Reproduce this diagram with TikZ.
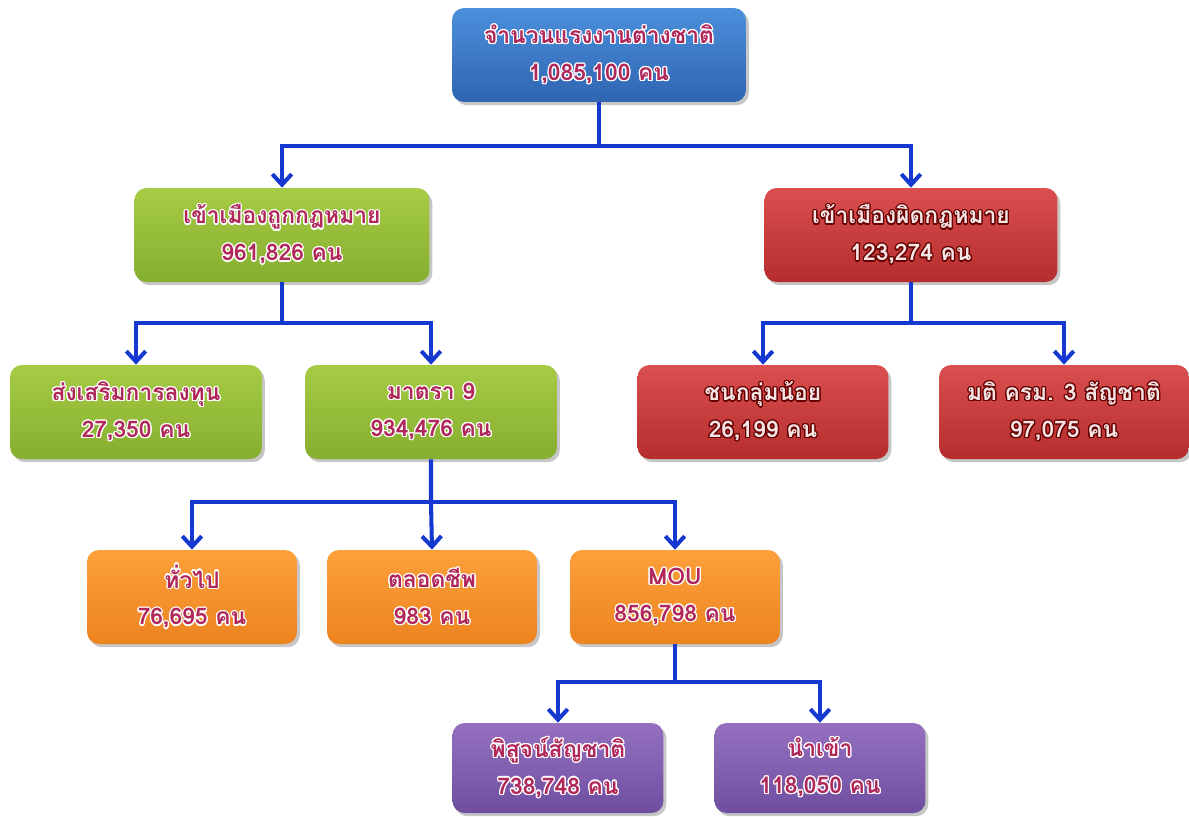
\documentclass[tikz,border=0pt]{standalone}
\usepackage{fontspec}
\newfontfamily\thaifont[Script=Thai]{Loma}
\usepackage{contour}
\contourlength{0.7pt}
\usetikzlibrary{arrows.meta,shadows}

\definecolor{linkblue}{HTML}{1438D0}
\definecolor{txtred}{HTML}{B0285A}
\definecolor{txtpale}{HTML}{F4E4E4}
\definecolor{blueA}{HTML}{4C8FDB}
\definecolor{blueB}{HTML}{2F65B2}
\definecolor{greenA}{HTML}{A6CC45}
\definecolor{greenB}{HTML}{86AE2F}
\definecolor{redA}{HTML}{DA4F4F}
\definecolor{redB}{HTML}{B52D2D}
\definecolor{orangeA}{HTML}{FDA03A}
\definecolor{orangeB}{HTML}{EC8420}
\definecolor{purpleA}{HTML}{9570C0}
\definecolor{purpleB}{HTML}{6F4E9F}

\newcommand{\glow}[1]{\contour{white}{#1}}
\newcommand{\darkglow}[1]{\contour{red!40!black}{#1}}

\begin{document}
\begin{tikzpicture}[x=0.02cm,y=-0.02cm,
    card/.style={rounded corners=0.24cm, align=center, text=txtred,
        font=\thaifont\bfseries\fontsize{13}{21}\selectfont,
        minimum height=1.88cm, inner sep=2pt,
        drop shadow={shadow xshift=1.6pt, shadow yshift=-1.8pt, opacity=0.45}},
    bluecard/.style={card, minimum width=5.88cm, top color=blueA, bottom color=blueB},
    greencard/.style={card, top color=greenA, bottom color=greenB},
    redcard/.style={card, text=txtpale, top color=redA, bottom color=redB},
    orangecard/.style={card, minimum width=4.2cm, top color=orangeA, bottom color=orangeB},
    purplecard/.style={card, minimum width=4.22cm, minimum height=1.8cm, top color=purpleA, bottom color=purpleB},
    link/.style={linkblue, line width=2.3pt, -{Straight Barb[length=6pt,width=11pt]}}]
\useasboundingbox (0,0) rectangle (1189,816);

% top
\node[bluecard] (total) at (599,55) {\glow{จำนวนแรงงานต่างชาติ}\\\glow{1,085,100 คน}};

% level 1
\node[greencard, minimum width=5.9cm] (legal) at (282,235) {\glow{เข้าเมืองถูกกฎหมาย}\\\glow{961,826 คน}};
\node[redcard, minimum width=5.86cm] (illegal) at (911,235) {\darkglow{เข้าเมืองผิดกฎหมาย}\\\darkglow{123,274 คน}};

% level 2
\node[greencard, minimum width=5.04cm] (invest) at (136,412) {\glow{ส่งเสริมการลงทุน}\\\glow{27,350 คน}};
\node[greencard, minimum width=5.04cm] (sec9) at (431,412) {\glow{มาตรา 9}\\\glow{934,476 คน}};
\node[redcard, minimum width=5.02cm] (minor) at (763,412) {\darkglow{ชนกลุ่มน้อย}\\\darkglow{26,199 คน}};
\node[redcard, minimum width=5.0cm] (cabinet) at (1064,412) {\darkglow{มติ ครม. 3 สัญชาติ}\\\darkglow{97,075 คน}};

% level 3
\node[orangecard] (general) at (192,597) {\glow{ทั่วไป}\\\glow{76,695 คน}};
\node[orangecard] (life) at (432,597) {\glow{ตลอดชีพ}\\\glow{983 คน}};
\node[orangecard] (mou) at (675,597) {\glow{MOU}\\\glow{856,798 คน}};

% level 4
\node[purplecard] (verify) at (558,768) {\glow{พิสูจน์สัญชาติ}\\\glow{738,748 คน}};
\node[purplecard] (import) at (820,768) {\glow{นำเข้า}\\\glow{118,050 คน}};

% connectors
\coordinate (j0) at ([yshift=-44*0.02cm]total.south);
\draw[link] (j0) -| (legal.north);
\draw[link] (total.south) -- (j0) -| (illegal.north);

\coordinate (j1) at ([yshift=-41*0.02cm]legal.south);
\draw[link] (j1) -| (invest.north);
\draw[link] (legal.south) -- (j1) -| (sec9.north);

\coordinate (j2) at ([yshift=-41*0.02cm]illegal.south);
\draw[link] (j2) -| (minor.north);
\draw[link] (illegal.south) -- (j2) -| (cabinet.north);

\coordinate (j3) at ([yshift=-43*0.02cm]sec9.south);
\draw[link] (j3) -| (general.north);
\draw[link] (sec9.south) -- (j3) -- (life.north);
\draw[link] (j3) -| (mou.north);

\coordinate (j4) at ([yshift=-38*0.02cm]mou.south);
\draw[link] (j4) -| (verify.north);
\draw[link] (mou.south) -- (j4) -| (import.north);
\end{tikzpicture}
\end{document}
